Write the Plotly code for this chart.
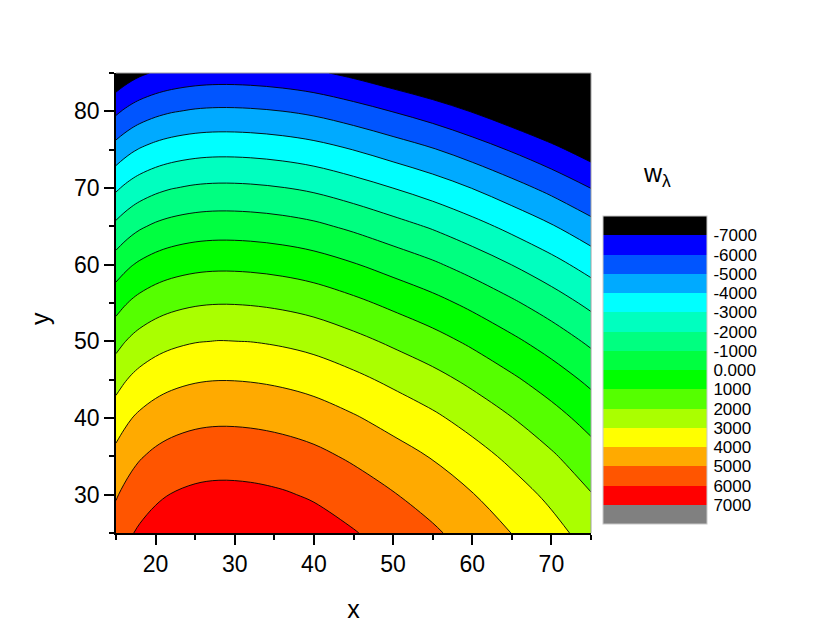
import plotly.graph_objects as go

# grid coordinates
x_vals = [15, 16, 17, 18, 20, 22, 25, 28, 32, 36, 40, 45, 50, 55, 60, 65, 70, 75]
y_vals = [25, 30, 35, 40, 45, 50, 55, 60, 65, 70, 75, 80, 85]

w_y25 = [5471, 5731, 5956, 6136, 6401, 6581, 6741, 6801, 6766, 6646, 6446, 6061, 5611, 5146, 4596, 3986, 3336, 2601]
w_y30 = [4916, 5176, 5401, 5581, 5846, 6026, 6186, 6246, 6211, 6091, 5891, 5506, 5056, 4591, 4041, 3431, 2781, 2046]
w_y35 = [4262, 4522, 4747, 4927, 5192, 5372, 5532, 5592, 5557, 5437, 5237, 4852, 4402, 3937, 3387, 2777, 2127, 1392]
w_y40 = [3506, 3766, 3991, 4171, 4436, 4616, 4776, 4836, 4801, 4681, 4481, 4096, 3646, 3181, 2631, 2021, 1371, 636]
w_y45 = [2650, 2910, 3135, 3315, 3580, 3760, 3920, 3980, 3945, 3825, 3625, 3240, 2790, 2325, 1775, 1165, 515, -220]
w_y50 = [1692, 1952, 2177, 2357, 2622, 2802, 2962, 3022, 2987, 2867, 2667, 2282, 1832, 1367, 817, 207, -443, -1178]
w_y55 = [635, 895, 1120, 1300, 1565, 1745, 1905, 1965, 1930, 1810, 1610, 1225, 775, 310, -240, -850, -1500, -2235]
w_y60 = [-524, -264, -39, 141, 406, 586, 746, 806, 771, 651, 451, 66, -384, -849, -1399, -2009, -2659, -3394]
w_y65 = [-1783, -1523, -1298, -1118, -853, -673, -513, -453, -488, -608, -808, -1193, -1643, -2108, -2658, -3268, -3918, -4653]
w_y70 = [-3144, -2884, -2659, -2479, -2214, -2034, -1874, -1814, -1849, -1969, -2169, -2554, -3004, -3469, -4019, -4629, -5279, -6014]
w_y75 = [-4604, -4344, -4119, -3939, -3674, -3494, -3334, -3274, -3309, -3429, -3629, -4014, -4464, -4929, -5479, -6089, -6739, -7474]
w_y80 = [-6166, -5906, -5681, -5501, -5236, -5056, -4896, -4836, -4871, -4991, -5191, -5576, -6026, -6491, -7041, -7651, -8301, -9036]
w_y85 = [-7828, -7568, -7343, -7163, -6898, -6718, -6558, -6498, -6533, -6653, -6853, -7238, -7688, -8153, -8703, -9313, -9963, -10698]

# contour levels and colour-bar labels (top to bottom as in the legend)
w_levels = [-7000, -6000, -5000, -4000, -3000, -2000, -1000, 0, 1000, 2000, 3000, 4000, 5000, 6000, 7000]
level_labels = ["-7000", "-6000", "-5000", "-4000", "-3000", "-2000", "-1000", "0.000",
                "1000", "2000", "3000", "4000", "5000", "6000", "7000"]

# band colours from highest w (bottom of legend) to lowest w (top of legend)
band_colors = ["#808080", "#FF0000", "#FF5500", "#FFAA00", "#FFFF00", "#AAFF00", "#55FF00",
               "#00FF00", "#00FF40", "#00FF80", "#00FFBF", "#00FFFF", "#00AAFF", "#0055FF",
               "#0000FF", "#000000"]

rows = [w_y25, w_y30, w_y35, w_y40, w_y45, w_y50, w_y55, w_y60, w_y65, w_y70, w_y75, w_y80, w_y85]
# the legend runs from -7000 at the top to 7000 at the bottom, so the colour variable is -w
z_plot = [[-v for v in row] for row in rows]

n = len(band_colors)
fill_scale = [[i / (n - 1), c] for i, c in enumerate(band_colors)]
step_scale = []
for i, c in enumerate(band_colors):
    step_scale.append([i / n, c])
    step_scale.append([(i + 1) / n, c])

lev_start = -max(w_levels)
lev_end = -min(w_levels)
lev_size = w_levels[1] - w_levels[0]

FONT = "Liberation Sans, Arial, sans-serif"

# page body has an 8px margin: figure is drawn 8px right/down of the window corner
OFF = 8
W, H = 830 - 2 * OFF, 642 - 2 * OFF
PL, PR, PT, PB = 116 - OFF, 591 - OFF, 73 - OFF, 533 - OFF   # plot-area edges in figure px
PW, PH = PR - PL, PB - PT


def px_x(px):
    return (px - OFF - PL) / PW


def px_y(py):
    return (PB - (py - OFF)) / PH


fig = go.Figure()
fig.add_trace(go.Contour(
    x=x_vals, y=y_vals, z=z_plot,
    autocontour=False,
    contours=dict(start=lev_start, end=lev_end, size=lev_size, coloring="fill", showlines=False),
    colorscale=fill_scale, showscale=False, hoverinfo="skip", showlegend=False,
    line=dict(width=0, smoothing=1),
))
fig.add_trace(go.Contour(
    x=x_vals, y=y_vals, z=z_plot,
    autocontour=False,
    contours=dict(start=lev_start, end=lev_end, size=lev_size, coloring="none", showlines=True),
    line=dict(color="black", width=0.9, smoothing=1),
    showscale=False, hoverinfo="skip", showlegend=False,
))
fig.add_trace(go.Scatter(
    x=[None], y=[None], mode="markers", showlegend=False, hoverinfo="skip",
    marker=dict(
        color=[0], colorscale=step_scale,
        cmin=lev_start - lev_size, cmax=lev_end + lev_size,
        showscale=True,
        colorbar=dict(
            x=px_x(603), xanchor="left", xpad=0,
            y=px_y(370.25), yanchor="middle", ypad=0,
            thickness=104, thicknessmode="pixels",
            len=307.5, lenmode="pixels",
            outlinecolor="#c8c8c8", outlinewidth=1,
            tickvals=[-v for v in w_levels], ticktext=level_labels,
            ticks="outside", ticklen=3, tickcolor="rgba(0,0,0,0)",
            tickfont=dict(family=FONT, size=17, color="black"),
        ),
    ),
))

axis_common = dict(
    showline=True, linecolor="black", linewidth=1.5,
    ticks="outside", ticklen=10, tickwidth=1.5, tickcolor="black",
    showgrid=False, zeroline=False,
    tickfont=dict(family=FONT, size=23, color="black"),
    minor=dict(ticks="outside", ticklen=5, tickwidth=1.5, tickcolor="black", dtick=5, tick0=0, showgrid=False),
)

fig.update_layout(
    width=W, height=H,
    margin=dict(l=PL, r=W - PR, t=PT, b=H - PB),
    paper_bgcolor="white", plot_bgcolor="white",
    showlegend=False,
    font=dict(family=FONT, color="black"),
    xaxis=dict(range=[15, 75], dtick=10, tick0=0,
               title=dict(text="x", font=dict(family=FONT, size=25), standoff=24),
               **axis_common),
    yaxis=dict(range=[25, 85], dtick=10, tick0=0, **axis_common),
    shapes=[
        dict(type="line", xref="paper", yref="paper", x0=0, x1=1, y0=1, y1=1,
             line=dict(color="#a0a0a0", width=1), layer="above"),
        dict(type="line", xref="paper", yref="paper", x0=1, x1=1, y0=0, y1=1,
             line=dict(color="#a0a0a0", width=1), layer="above"),
    ],
    annotations=[
        dict(text="w<sub>λ</sub>", xref="paper", yref="paper",
             x=px_x(657), y=px_y(175), xanchor="center", yanchor="middle",
             showarrow=False, font=dict(family=FONT, size=25, color="black")),
        dict(text="y", xref="paper", yref="paper", textangle=-90,
             x=px_x(40), y=px_y(319), xanchor="center", yanchor="middle",
             showarrow=False, font=dict(family=FONT, size=25, color="black")),
    ],
)

fig.write_html("out.html")
